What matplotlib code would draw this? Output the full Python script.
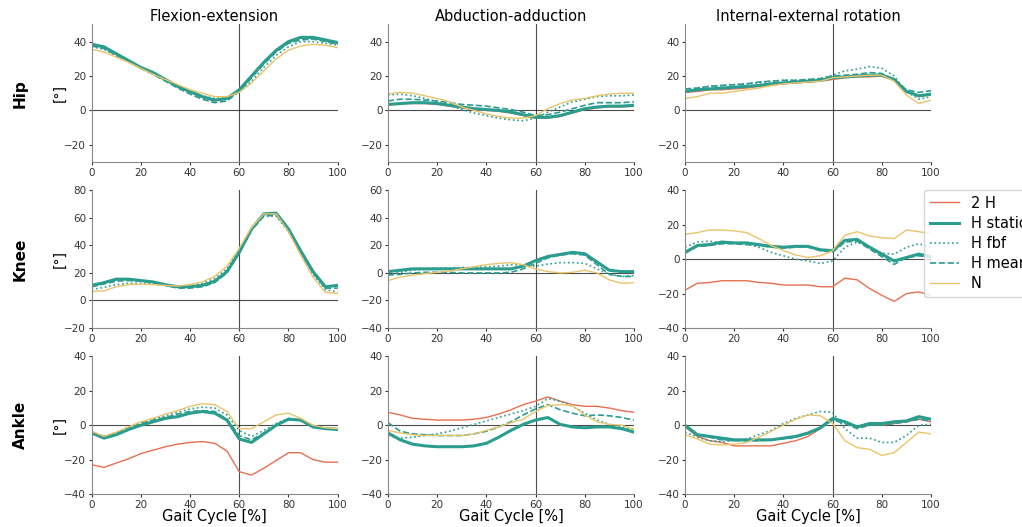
import matplotlib
matplotlib.use('Agg')
import matplotlib.pyplot as plt
import numpy as np

gait = np.arange(0, 101, 5)

joints = ['Hip', 'Knee', 'Ankle']
planes = ['Flexion-extension', 'Abduction-adduction', 'Internal-external rotation']
series = ['2 H', 'H static', 'H fbf', 'H mean', 'N']

# hip
hip_flex = {
    '2 H':      [38, 36.5, 32.5, 28.5, 24.5, 21.5, 17.5, 13.5, 10.5, 7.5, 5.5, 6.5, 11.5, 19.5, 27.5, 34.5, 39.5, 42, 42, 40.5, 39],
    'H static': [38.5, 37, 33, 29, 25, 22, 18, 14, 11, 8, 6, 7, 12, 20, 28, 35, 40, 42.5, 42.5, 41, 39.5],
    'H fbf':    [37, 35.5, 32, 28, 24.5, 21, 17.5, 14, 11, 8.5, 7, 7.5, 11, 17, 25, 32, 37, 40, 40, 39, 38],
    'H mean':   [37.5, 36, 32, 28.5, 24.5, 21, 17, 13, 9.5, 6.5, 4.5, 5.5, 11, 19, 27, 34, 39, 41, 41.5, 40, 38.5],
    'N':        [35.5, 34, 31, 28, 24.5, 21, 18, 15, 12, 10, 8, 8, 10.5, 16, 23, 30, 35, 37.5, 38.5, 38, 36.5],
}
hip_abd = {
    '2 H':      [3, 4, 4, 4, 3.5, 2.5, 1.5, 0.5, 0, -0.5, -1.5, -3, -4.5, -4.5, -3.5, -1.5, 0.5, 1.5, 2, 2, 2.5],
    'H static': [3.5, 4, 4.5, 4.5, 4, 3, 2, 1, 0.5, 0, -1, -2.5, -4, -4, -3, -1, 1, 2, 2.5, 2.5, 3],
    'H fbf':    [9, 9.5, 8.5, 7, 5, 3, 0.5, -1.5, -3, -4.5, -5.5, -6, -4.5, -1, 2, 5, 6.5, 8, 8.5, 8.5, 9],
    'H mean':   [5.5, 6.5, 6.5, 6, 5.5, 4.5, 3.5, 3, 2.5, 1.5, 0.5, -1, -3, -2.5, -1, 1, 3, 4.5, 4.5, 4.5, 5],
    'N':        [9.5, 10.5, 10, 8.5, 7, 5, 2, 0, -2, -3.5, -4.5, -4.5, -3, 1, 4, 6, 7, 8.5, 9.5, 10, 10],
}
hip_rot = {
    '2 H':      [10.5, 11, 12, 12, 12.5, 13, 14, 14.5, 15.5, 16, 16.5, 17, 18, 19, 19.5, 19.5, 20, 17.5, 11, 8, 9],
    'H static': [11, 12, 12.5, 13, 13.5, 14, 14.5, 15.5, 16, 16.5, 17, 17.5, 19, 19.5, 20, 20.5, 20.5, 18, 11, 8.5, 9.5],
    'H fbf':    [12, 13, 14, 14.5, 15, 15.5, 16, 17, 17.5, 17.5, 18, 18.5, 20.5, 23, 24, 25.5, 24.5, 20, 11, 6.5, 8],
    'H mean':   [12.5, 13, 14, 14.5, 15, 15.5, 16.5, 17, 17.5, 17.5, 18, 18.5, 20, 20.5, 21, 22, 21.5, 18, 12, 10.5, 11.5],
    'N':        [7, 8, 10, 10, 11, 12, 13, 14.5, 15.5, 16, 16.5, 17, 19, 19.5, 20, 20.5, 20.5, 17, 9, 4, 6],
}

# knee
knee_flex = {
    '2 H':      [11, 13, 15.5, 15.5, 14.5, 13.5, 11.5, 10, 10, 11, 14, 21, 35, 52, 63, 63.5, 52, 36, 21, 10, 11],
    'H static': [11, 13, 15.5, 15.5, 14.5, 13.5, 11.5, 10, 10, 11, 14, 21, 35, 52, 63, 63.5, 52, 36, 21, 10, 11],
    'H fbf':    [8, 9.5, 11.5, 12.5, 12.5, 12, 11, 10.5, 11, 12.5, 16, 23, 37, 52, 61, 61.5, 50, 34, 19, 8, 6],
    'H mean':   [10, 12, 14, 14.5, 14, 13, 11, 9, 9, 10, 13, 20, 35, 51, 61.5, 62, 51, 35, 20, 9, 9],
    'N':        [6.5, 7, 10, 11.5, 12, 11.5, 11, 10.5, 11.5, 13.5, 17.5, 25, 38, 53, 63, 63, 50, 33, 17, 6, 5],
}
knee_abd = {
    '2 H':      [1, 2, 3, 3, 3, 3, 3, 3, 3, 3, 3, 5, 9, 12, 13.5, 15, 14, 8, 2, 1, 1],
    'H static': [1, 2, 3, 3, 3, 3, 3, 3, 3, 3, 3, 5, 9, 12, 13.5, 15, 14, 8, 2, 1, 1],
    'H fbf':    [-1.5, 0.5, 2, 3, 3.5, 3.5, 4, 4, 4.5, 5, 6, 6, 5, 6.5, 7.5, 7.5, 7, 3, -1, -2.5, -2],
    'H mean':   [-1.5, -1, 0, 0.5, 0.5, 0.5, 0, 0, 0, 0, 0.5, 3, 7, 11, 13, 14, 13, 6, -1, -2.5, -2.5],
    'N':        [-5.5, -3, -1.5, -0.5, 0.5, 1.5, 3, 4.5, 6, 7, 7.5, 6, 3, 1, 0, 0.5, 2, 0, -5, -7.5, -7],
}
knee_rot = {
    '2 H':      [-18, -14, -13.5, -12.5, -12.5, -12.5, -13.5, -14, -15, -15, -15, -16, -16, -11, -12, -17, -21, -24.5, -20, -19, -21],
    'H static': [4, 8, 8.5, 10, 9.5, 9.5, 8.5, 7.5, 7, 7.5, 7.5, 5.5, 5, 11, 11.5, 7, 3, -1, 1, 3, 1.5],
    'H fbf':    [7, 10, 10.5, 9.5, 9.5, 9, 7, 4, 2, 0, -1, -2.5, -1, 7, 10, 7, 3.5, 3, 7, 9, 7],
    'H mean':   [3.5, 7.5, 8, 9, 9, 8.5, 8, 7, 6.5, 7, 7, 5, 4, 10, 10.5, 6, 1.5, -3, 1, 2, 1],
    'N':        [14.5, 15.5, 17, 17, 16.5, 15.5, 12, 8, 5, 2.5, 1, 2, 5, 14, 16, 13.5, 12.5, 12, 17, 16, 15],
}

# ankle
ankle_flex = {
    '2 H':      [-23, -24.5, -22, -19.5, -16.5, -14.5, -12.5, -11, -10, -9.5, -10.5, -15, -27, -29, -25, -20.5, -16, -16, -20, -21.5, -21.5],
    'H static': [-4.5, -7.5, -5.5, -2.5, 0, 2, 4, 5, 7, 8, 7, 3, -8, -10, -5, 0, 3.5, 3, -1, -2, -2.5],
    'H fbf':    [-4, -6.5, -4.5, -1, 1.5, 3.5, 5.5, 7.5, 9.5, 10.5, 10, 6, -3, -6.5, -3, 1, 4, 2.5, -1, -2, -2],
    'H mean':   [-4, -6.5, -4.5, -1.5, 1, 3, 4.5, 6.5, 8, 8.5, 8, 3.5, -6, -8.5, -4.5, 0, 3.5, 3, -1, -2, -2],
    'N':        [-3.5, -6.5, -4, -1, 2, 4, 6.5, 8.5, 11, 12.5, 12, 8, -2, -2, 2, 6, 7, 4, 0, -1.5, -2],
}
ankle_abd = {
    '2 H':      [7.5, 6, 4, 3.5, 3, 3, 3, 3.5, 4.5, 6.5, 9, 12, 14, 16.5, 14, 12, 11, 11, 10, 8.5, 7.5],
    'H static': [-4.5, -8.5, -11, -12, -12.5, -12.5, -12.5, -12, -10.5, -7, -3, 0.5, 3, 4.5, 0.5, -1, -1.5, -1, -1, -2, -4],
    'H fbf':    [-6, -7.5, -7, -6, -5, -3.5, -1.5, 0.5, 2.5, 4.5, 6.5, 8.5, 11, 15.5, 14, 11, 7, 3, 0.5, -1, -2.5],
    'H mean':   [1.5, -3.5, -5, -5.5, -6, -6, -6, -5, -3.5, -1, 2, 6, 9.5, 12, 9, 7, 5.5, 6, 5.5, 4.5, 3],
    'N':        [-3, -4.5, -5.5, -6, -6, -6, -6, -5, -3, -1, 1.5, 3.5, 8, 11.5, 12, 11.5, 6, 2, 0.5, 0, -2.5],
}
ankle_rot = {
    '2 H':      [-1, -6.5, -9, -10, -12, -12, -12, -12, -10.5, -9, -6.5, -2, 4, 2, -1, 0.5, 0, 1, 2, 3.5, 2],
    'H static': [0, -5.5, -6.5, -7.5, -8.5, -8.5, -8.5, -8.5, -7.5, -6.5, -4.5, -1.5, 4, 2, -1, 1, 1, 2, 2.5, 5, 3.5],
    'H fbf':    [-4, -7, -9, -9.5, -9, -8, -5.5, -3, 1, 4, 6, 8, 7.5, -2, -7.5, -7.5, -10, -10, -6, 0, 0.5],
    'H mean':   [-0.5, -6, -7, -8.5, -9, -9, -9, -8.5, -8, -7, -5, -2, 3, 1, -2, 0, 0, 1, 2, 3.5, 2.5],
    'N':        [-5.5, -8, -11, -11.5, -11, -10, -7, -3.5, 0, 3.5, 6, 5.5, 1, -9, -13, -14, -17.5, -16, -10, -4, -5],
}

data = [[hip_flex, hip_abd, hip_rot],
        [knee_flex, knee_abd, knee_rot],
        [ankle_flex, ankle_abd, ankle_rot]]

ylims = [[(-30, 50), (-30, 50), (-30, 50)],
         [(-20, 80), (-40, 60), (-40, 40)],
         [(-40, 40), (-40, 40), (-40, 40)]]

styles = {
    '2 H':      dict(color='#e76f51', lw=1.0, ls='-'),
    'H static': dict(color='#2a9d8f', lw=2.2, ls='-'),
    'H fbf':    dict(color='#2a9d8f', lw=1.2, ls=':'),
    'H mean':   dict(color='#2a9d8f', lw=1.2, ls='--'),
    'N':        dict(color='#e9c46a', lw=1.0, ls='-'),
}

fig = plt.figure(figsize=(10.22, 5.27), dpi=100)
lefts = [0.0897, 0.3796, 0.6703]
bottoms = [0.6926, 0.3776, 0.0626]
w, h = 0.2407, 0.261

for r in range(3):
    for c in range(3):
        ax = fig.add_axes([lefts[c], bottoms[r], w, h])
        for s in series:
            ax.plot(gait, data[r][c][s], label=s, **styles[s])
        ax.axhline(0, color='black', lw=0.8, alpha=0.7, zorder=0)
        ax.axvline(60, color='black', lw=0.8, alpha=0.7, zorder=0)
        ax.set_xlim(0, 100)
        ax.set_ylim(*ylims[r][c])
        ax.set_xticks([0, 20, 40, 60, 80, 100])
        lo, hi = ylims[r][c]
        ax.set_yticks([t for t in range(-40, 81, 20) if lo <= t <= hi])
        ax.spines['top'].set_visible(False)
        ax.spines['right'].set_visible(False)
        ax.spines['left'].set_color('#888888')
        ax.spines['bottom'].set_color('#888888')
        ax.tick_params(labelsize=7.5, colors='#333333', length=2.5, pad=1.5)
        if r == 0:
            ax.set_title(planes[c], fontsize=10.5, pad=2)
        if r == 2:
            ax.set_xlabel('Gait Cycle [%]', fontsize=10.5)
            ax.xaxis.set_label_coords(0.5, -0.112)
        if c == 0:
            ax.set_ylabel('[°]', fontsize=10)
            ax.yaxis.set_label_coords(-0.10, 0.5)
            fig.text(0.02, bottoms[r] + h / 2, joints[r], rotation=90,
                     fontsize=11, fontweight='bold', ha='center', va='center')
        if r == 1 and c == 2:
            handles, labels = ax.get_legend_handles_labels()

fig.legend(handles, labels, loc='upper left', bbox_to_anchor=(0.904, 0.64),
           fontsize=10.5, frameon=True, borderaxespad=0, labelspacing=0.35)

plt.savefig('out.png', dpi=100)
plt.close()
